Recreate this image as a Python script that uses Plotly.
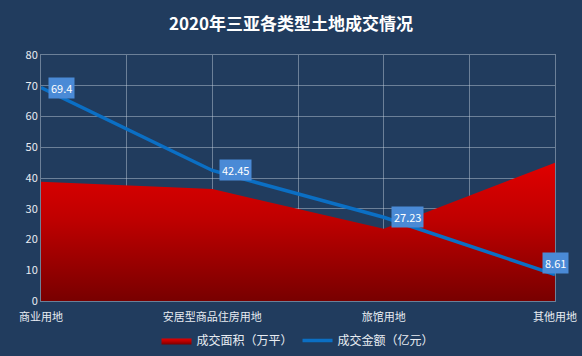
import plotly.graph_objects as go

categories = ["商业用地", "安居型商品住房用地", "旅馆用地", "其他用地"]
area_values = [38.8, 36.4, 23.5, 45.0]
amount_values = [69.4, 42.45, 27.23, 8.61]
amount_labels = ["69.4", "42.45", "27.23", "8.61"]
y_ticks = [0, 10, 20, 30, 40, 50, 60, 70, 80]

BG = "#213c5e"
GRID = "rgba(200,210,225,0.45)"
FONT = "Noto Sans CJK SC"

xpos = list(range(len(categories)))

fig = go.Figure()
fig.add_trace(go.Scatter(
    x=xpos, y=area_values, mode="lines", name="成交面积（万平）",
    line=dict(width=0, color="#d00000"),
    fill="tozeroy",
    fillgradient=dict(type="vertical",
                      colorscale=[[0, "#780000"], [0.6, "#c00000"], [1, "#e00000"]]),
    hoverinfo="skip",
))
fig.add_trace(go.Scatter(
    x=xpos, y=amount_values, mode="lines", name="成交金额（亿元）",
    line=dict(width=3.5, color="#0b6fc4"),
))

for i, (v, t) in enumerate(zip(amount_values, amount_labels)):
    last = i == len(amount_values) - 1
    fig.add_annotation(
        x=xpos[i], y=v, text=t, showarrow=False,
        xanchor="center" if last else "left",
        yanchor="middle",
        xshift=0 if last else 7,
        yshift=12 if last else 0,
        bgcolor="#4a8ad6", borderpad=2,
        font=dict(family=FONT, size=11, color="white"),
    )

tickvals = []
ticktext = []
for i, c in enumerate(categories):
    tickvals.append(i)
    ticktext.append(c)
    if i < len(categories) - 1:
        tickvals.append(i + 0.5)
        ticktext.append("")

fig.update_layout(
    width=582, height=356,
    paper_bgcolor=BG, plot_bgcolor=BG,
    margin=dict(l=41, r=27, t=55, b=55, autoexpand=False),
    title=dict(text="<b>2020年三亚各类型土地成交情况</b>", x=0.5, xanchor="center",
               y=0.932, yanchor="middle",
               font=dict(family=FONT, size=17, color="white")),
    font=dict(family=FONT, color="#e8ecf2", size=11),
    showlegend=True,
    legend=dict(orientation="h", x=0.5, xanchor="center", y=-0.102, yanchor="top",
                font=dict(family=FONT, size=12, color="#e8ecf2"),
                itemwidth=30, bgcolor="rgba(0,0,0,0)"),
    xaxis=dict(range=[0, 3], tickvals=tickvals, ticktext=ticktext,
               showgrid=True, gridcolor=GRID, gridwidth=1,
               showline=True, linecolor=GRID, mirror=True,
               zeroline=False, ticks="", ticklabelstandoff=6,
               tickfont=dict(size=11, color="#e8ecf2")),
    yaxis=dict(range=[0, 80], tickvals=y_ticks,
               showgrid=True, gridcolor=GRID, gridwidth=1,
               showline=True, linecolor=GRID, mirror=True,
               zeroline=False, ticks="", tickfont=dict(size=11, color="#e8ecf2")),
)

fig.write_html("out.html", config={"displayModeBar": False},
               post_script="document.body.style.margin='0px';")
